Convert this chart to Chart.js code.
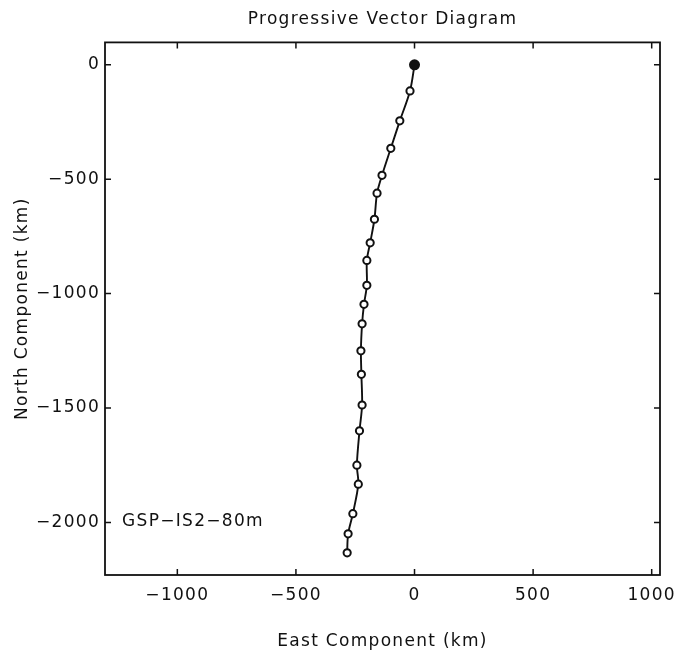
<!DOCTYPE html>
<html>
<head>
<meta charset="utf-8">
<script src="https://cdn.jsdelivr.net/npm/chart.js@4/dist/chart.umd.min.js"></script>
<style>
  html, body { margin: 0; padding: 0; background: #fff; }
  #wrap { width: 681px; height: 659px; position: relative; }
</style>
</head>
<body>
<div id="wrap"><canvas id="pvd"></canvas></div>
<script>
// Progressive vector track (km)
const eastKm  = [0, -19, -62, -100, -137, -158, -169, -187, -201, -201, -213, -221, -226, -224, -221, -232, -243, -237, -260, -280, -284];
const northKm = [0, -114, -245, -365, -483, -561, -675, -778, -855, -964, -1047, -1132, -1250, -1353, -1487, -1600, -1750, -1833, -1962, -2050, -2133];

const xTicks = [-1000, -500, 0, 500, 1000];
const yTicks = [0, -500, -1000, -1500, -2000];

const stationLabel = 'GSP\u2212IS2\u221280m';
const labelPos = { x: -1233, y: -1998 };

const FONT = "'DejaVu Sans', sans-serif";
const INK = '#111';
const SPACING = '1.3px'; // the plotter font is wide

// minus sign like the original plot
function fmt(v) {
  return v < 0 ? '\u2212' + Math.abs(v) : '' + v;
}

// wide lettering for every text on the canvas
const spacing = {
  id: 'spacing',
  beforeLayout(chart) { chart.ctx.letterSpacing = SPACING; },
  beforeDraw(chart) { chart.ctx.letterSpacing = SPACING; }
};

// box, inward ticks on all four sides, station label
const frame = {
  id: 'frame',
  afterDraw(chart) {
    const { ctx, chartArea: a, scales: { x, y } } = chart;
    ctx.save();
    ctx.strokeStyle = INK;
    ctx.lineWidth = 1.8;
    ctx.strokeRect(a.left, a.top, a.right - a.left, a.bottom - a.top);
    ctx.lineWidth = 1.5;
    const len = 6;
    ctx.beginPath();
    x.ticks.forEach(t => {
      const px = x.getPixelForValue(t.value);
      ctx.moveTo(px, a.bottom); ctx.lineTo(px, a.bottom - len);
      ctx.moveTo(px, a.top); ctx.lineTo(px, a.top + len);
    });
    y.ticks.forEach(t => {
      const py = y.getPixelForValue(t.value);
      ctx.moveTo(a.left, py); ctx.lineTo(a.left + len, py);
      ctx.moveTo(a.right, py); ctx.lineTo(a.right - len, py);
    });
    ctx.stroke();
    ctx.fillStyle = INK;
    ctx.font = '17px ' + FONT;
    ctx.textBaseline = 'middle';
    ctx.textAlign = 'left';
    ctx.fillText(stationLabel, x.getPixelForValue(labelPos.x), y.getPixelForValue(labelPos.y));
    ctx.restore();
  }
};

new Chart(document.getElementById('pvd'), {
  type: 'scatter',
  data: {
    datasets: [{
      data: eastKm.map((e, i) => ({ x: e, y: northKm[i] })),
      showLine: true,
      tension: 0.3,
      borderColor: INK,
      borderWidth: 1.9,
      pointRadius: ctx => ctx.dataIndex === 0 ? 4.5 : 3.6,
      pointBorderWidth: 2,
      pointBorderColor: INK,
      pointBackgroundColor: ctx => ctx.dataIndex === 0 ? INK : '#fff'
    }]
  },
  options: {
    responsive: true,
    maintainAspectRatio: false,
    animation: false,
    layout: { padding: { left: 0, right: 21, top: 4, bottom: 0 } },
    plugins: {
      legend: { display: false },
      tooltip: { enabled: false },
      title: {
        display: true,
        fullSize: false,
        text: 'Progressive Vector Diagram',
        color: INK,
        font: { family: FONT, size: 17, weight: 'normal' },
        padding: { top: 5, bottom: 13 }
      }
    },
    scales: {
      x: {
        type: 'linear',
        min: -1305,
        max: 1035,
        grid: { display: false, drawTicks: false },
        border: { display: false },
        afterBuildTicks: s => { s.ticks = xTicks.map(v => ({ value: v })); },
        afterFit: s => { s.height = 84; s.paddingLeft = 0; s.paddingRight = 0; },
        ticks: {
          color: INK,
          padding: 10,
          font: { family: FONT, size: 17 },
          callback: fmt
        },
        title: {
          display: true,
          text: 'East Component (km)',
          color: INK,
          font: { family: FONT, size: 17 },
          padding: { top: 0, bottom: 7 }
        }
      },
      y: {
        type: 'linear',
        min: -2230,
        max: 98,
        grid: { display: false, drawTicks: false },
        border: { display: false },
        afterBuildTicks: s => { s.ticks = yTicks.map(v => ({ value: v })); },
        afterFit: s => { s.width = 105; s.paddingTop = 0; s.paddingBottom = 0; },
        ticks: {
          color: INK,
          padding: 5,
          font: { family: FONT, size: 17 },
          callback: fmt
        },
        title: {
          display: true,
          text: 'North Component (km)',
          color: INK,
          font: { family: FONT, size: 17 },
          padding: { top: 12, bottom: 0 }
        }
      }
    }
  },
  plugins: [spacing, frame]
});
</script>
</body>
</html>
